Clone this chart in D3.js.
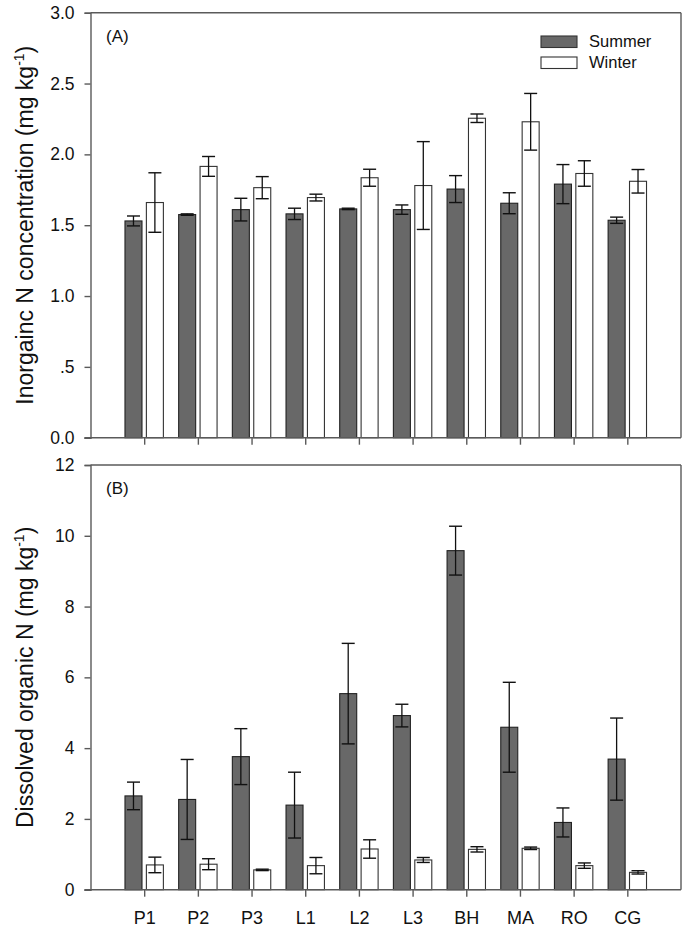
<!DOCTYPE html>
<html><head><meta charset="utf-8">
<script src="https://cdn.jsdelivr.net/npm/d3@7"></script>
<style>body{margin:0;background:#fff}svg{display:block;font-family:"Liberation Sans",Arial,sans-serif}</style>
</head><body>
<script>
const categories = ["P1","P2","P3","L1","L2","L3","BH","MA","RO","CG"];
const inorgSummer    = [1.53,1.575,1.61,1.58,1.615,1.61,1.755,1.655,1.79,1.535];
const inorgSummerErr = [0.035,0.005,0.08,0.04,0.005,0.033,0.095,0.074,0.138,0.022];
const inorgWinter    = [1.66,1.915,1.765,1.695,1.835,1.78,2.255,2.23,1.865,1.81];
const inorgWinterErr = [0.21,0.07,0.078,0.024,0.06,0.31,0.03,0.2,0.09,0.083];
const donSummer      = [2.65,2.55,3.76,2.39,5.54,4.92,9.58,4.59,1.9,3.69];
const donSummerErr   = [0.39,1.13,0.79,0.93,1.42,0.32,0.69,1.27,0.41,1.16];
const donWinter      = [0.70,0.72,0.56,0.68,1.15,0.84,1.14,1.17,0.68,0.49];
const donWinterErr   = [0.22,0.155,0.02,0.23,0.26,0.07,0.075,0.035,0.076,0.047];
const ticksA = [0,0.5,1.0,1.5,2.0,2.5,3.0];
const tickLabelsA = ["0.0",".5","1.0","1.5","2.0","2.5","3.0"];
const ticksB = [0,2,4,6,8,10,12];
const seriesNames = ["Summer","Winter"];

const W = 688, H = 931;
const svg = d3.select("body").append("svg").attr("width",W).attr("height",H);
const left = 90.5, right = 681;
const x = d3.scalePoint().domain(categories).range([left,right]).padding(1);
const barW = 17, half = 2.2, capW = 13;
const axisColor = "#5a5a5a";

function panel(top, bottom, domain, ticks, tickLabels, s, sE, w, wE, tag, titleMain, ticksShowLabels){
  const y = d3.scaleLinear().domain(domain).range([bottom, top]);
  const g = svg.append("g");
  const drawBars = (vals, errs, dx, fill, stroke) => {
    g.selectAll(null).data(categories).enter().append("rect")
      .attr("x", (d)=> x(d) + dx)
      .attr("y", (d,i)=> y(vals[i]))
      .attr("width", barW)
      .attr("height", (d,i)=> y(0) - y(vals[i]))
      .attr("fill", fill).attr("stroke", stroke).attr("stroke-width",1.1);
    categories.forEach((d,i)=>{
      const cx = x(d) + dx + barW/2;
      const y1 = y(vals[i]+errs[i]), y2 = y(vals[i]-errs[i]);
      g.append("line").attr("x1",cx).attr("x2",cx).attr("y1",y1).attr("y2",y2).attr("stroke","#111").attr("stroke-width",1.3);
      [y1,y2].forEach(yy=> g.append("line").attr("x1",cx-capW/2).attr("x2",cx+capW/2).attr("y1",yy).attr("y2",yy).attr("stroke","#111").attr("stroke-width",1.4));
    });
  };
  drawBars(s, sE, -half-barW, "#686868", "#222");
  drawBars(w, wE, half, "#ffffff", "#333");
  g.append("line").attr("x1",left).attr("x2",right).attr("y1",top).attr("y2",top).attr("stroke",axisColor).attr("stroke-width",1.4);
  g.append("line").attr("x1",right).attr("x2",right).attr("y1",top).attr("y2",bottom).attr("stroke",axisColor).attr("stroke-width",1.4);
  const ya = d3.axisLeft(y).tickValues(ticks).tickFormat((d,i)=>tickLabels[i]).tickSize(6).tickPadding(10);
  const yg = g.append("g").attr("transform",`translate(${left},0)`).call(ya);
  yg.select(".domain").attr("stroke",axisColor).attr("stroke-width",1.4);
  yg.selectAll(".tick line").attr("stroke",axisColor).attr("stroke-width",1.4);
  yg.selectAll("text").attr("font-size",17.5).attr("fill","#111").attr("font-family",'"Liberation Sans",Arial,sans-serif');
  const xa = d3.axisBottom(x).tickSize(7).tickPadding(15).tickFormat(ticksShowLabels ? (d=>d) : (()=>""));
  const xg = g.append("g").attr("transform",`translate(0,${bottom})`).call(xa);
  xg.select(".domain").attr("stroke",axisColor).attr("stroke-width",1.4).attr("d",`M${left-6},0H${right}`);
  xg.selectAll(".tick line").attr("stroke",axisColor).attr("stroke-width",1.4);
  xg.selectAll("text").attr("font-size",18).attr("fill","#111").attr("font-family",'"Liberation Sans",Arial,sans-serif');
  g.append("text").attr("x",106).attr("y",top+29).attr("font-size",17).attr("fill","#111").text(tag);
  const cy = (top+bottom)/2;
  const t = g.append("text").attr("transform",`translate(33,${cy}) rotate(-90)`).attr("text-anchor","middle")
    .attr("font-size",23).attr("fill","#111");
  t.append("tspan").text(titleMain + " (mg kg");
  t.append("tspan").attr("font-size",14).attr("dy",-9).text("-1");
  t.append("tspan").attr("dy",9).text(")");
  return y;
}

panel(12.7, 437.7, [0,3], ticksA, tickLabelsA, inorgSummer, inorgSummerErr, inorgWinter, inorgWinterErr, "(A)", "Inorgainc N concentration", false);
panel(465, 889.7, [0,12], ticksB, ticksB.map(String), donSummer, donSummerErr, donWinter, donWinterErr, "(B)", "Dissolved organic N", true);

const leg = svg.append("g");
seriesNames.forEach((n,i)=>{
  leg.append("rect").attr("x",541).attr("y",36+i*21).attr("width",36).attr("height",11.5)
    .attr("fill", i===0 ? "#686868" : "#fff").attr("stroke", "#333").attr("stroke-width",1.1);
  leg.append("text").attr("x",589).attr("y",47+i*21).attr("font-size",16.5).attr("fill","#111").text(n);
});
</script>
</body></html>
